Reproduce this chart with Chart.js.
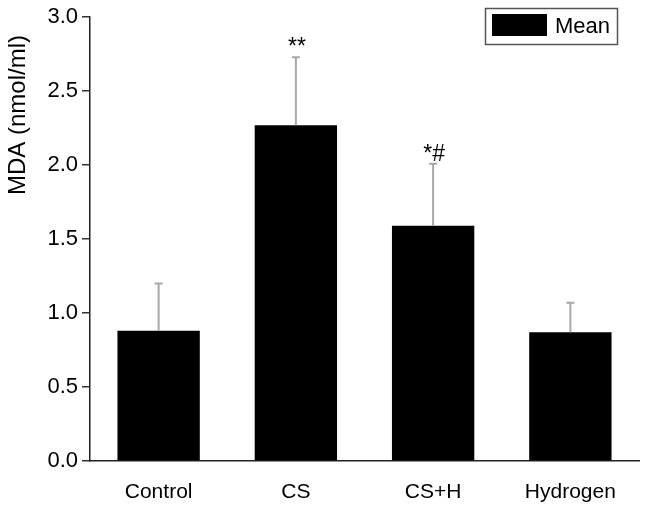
<!DOCTYPE html>
<html>
<head>
<meta charset="utf-8">
<script src="https://cdn.jsdelivr.net/npm/chart.js@4/dist/chart.umd.min.js"></script>
<style>
html, body { margin: 0; padding: 0; background: #fff; }
</style>
</head>
<body>
<canvas id="myChart" width="648" height="511"></canvas>
<script>
// values
const groups = ['Control', 'CS', 'CS+H', 'Hydrogen'];
const meanMDA = [0.88, 2.27, 1.59, 0.87];
const sdMDA = [0.32, 0.46, 0.42, 0.20];
const marks = ['', '**', '*#', ''];
const yTicks = [0, 0.5, 1.0, 1.5, 2.0, 2.5, 3.0];

const FONT = '"Liberation Sans", Arial, sans-serif';

const errorBars = {
    id: 'errorBars',
    afterDatasetsDraw(chart) {
        const ctx = chart.ctx;
        const y = chart.scales.y;
        const meta = chart.getDatasetMeta(0);
        ctx.save();
        meta.data.forEach((bar, i) => {
            const top = y.getPixelForValue(meanMDA[i] + sdMDA[i]);
            ctx.strokeStyle = '#a8a8a8';
            ctx.lineWidth = 2;
            ctx.beginPath();
            ctx.moveTo(bar.x, bar.y);
            ctx.lineTo(bar.x, top);
            ctx.moveTo(bar.x - 4, top);
            ctx.lineTo(bar.x + 4, top);
            ctx.stroke();
            if (marks[i]) {
                ctx.fillStyle = '#000';
                ctx.font = '23px ' + FONT;
                ctx.textAlign = 'center';
                ctx.textBaseline = 'alphabetic';
                ctx.fillText(marks[i], bar.x + 1, top - 3);
            }
        });
        ctx.restore();
    }
};

const boxLegend = {
    id: 'boxLegend',
    afterDraw(chart) {
        const ctx = chart.ctx;
        ctx.save();
        ctx.strokeStyle = '#555';
        ctx.lineWidth = 1.5;
        ctx.strokeRect(485.5, 8.5, 132, 36);
        ctx.fillStyle = '#000';
        ctx.fillRect(492, 14, 55, 22);
        ctx.font = '22px ' + FONT;
        ctx.textAlign = 'left';
        ctx.textBaseline = 'middle';
        ctx.fillText(chart.data.datasets[0].label, 555, 27);

        // y axis title
        ctx.font = '24px ' + FONT;
        ctx.translate(18.5, 115);
        ctx.rotate(-Math.PI / 2);
        ctx.textAlign = 'center';
        ctx.fillText('MDA (nmol/ml)', 0, 0);
        ctx.restore();
    }
};

const ctx = document.getElementById('myChart').getContext('2d');
const chart = new Chart(ctx, {
    type: 'bar',
    data: {
        labels: groups,
        datasets: [{
            label: 'Mean',
            data: meanMDA,
            backgroundColor: '#000',
            borderWidth: 0,
            categoryPercentage: 1.0,
            barPercentage: 0.6
        }]
    },
    options: {
        responsive: false,
        animation: false,
        layout: { padding: { left: 0, right: 9, top: 16, bottom: 0 } },
        plugins: {
            legend: { display: false },
            tooltip: { enabled: false }
        },
        scales: {
            x: {
                grid: { display: false },
                border: { display: true, color: '#222', width: 1.5 },
                ticks: { color: '#000', font: { family: FONT, size: 21 }, padding: 11, maxRotation: 0 },
                afterFit(scale) { scale.height = 50; }
            },
            y: {
                min: 0,
                max: 3,
                afterBuildTicks(scale) { scale.ticks = yTicks.map(v => ({ value: v })); },
                grid: { display: true, drawOnChartArea: false, drawTicks: true, tickLength: 8, tickColor: '#333', lineWidth: 1.5 },
                border: { display: true, color: '#222', width: 1.5 },
                ticks: {
                    color: '#000',
                    font: { family: FONT, size: 22 },
                    padding: 4,
                    callback: v => v.toFixed(1)
                },
                afterFit(scale) { scale.width = 90; }
            }
        }
    },
    plugins: [errorBars, boxLegend]
});
</script>
</body>
</html>
